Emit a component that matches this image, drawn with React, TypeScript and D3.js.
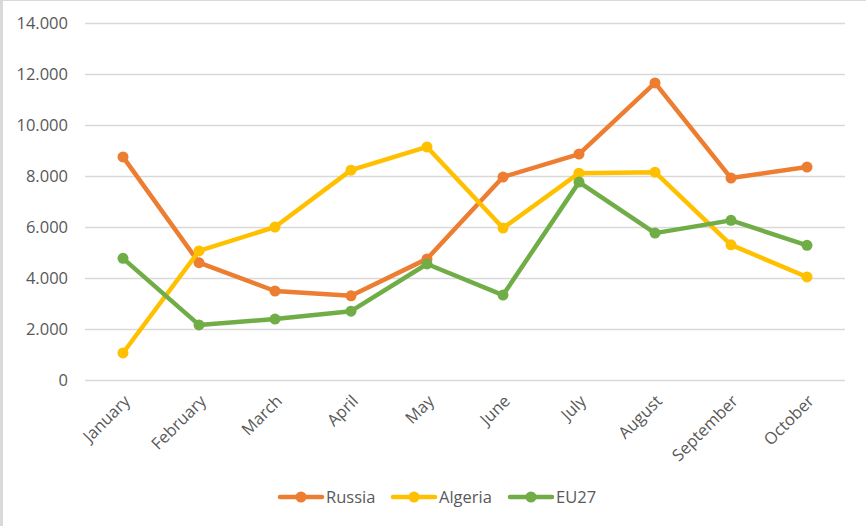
import React, { useEffect, useRef } from "react";
import * as d3 from "d3";

const months = ["January", "February", "March", "April", "May", "June", "July", "August", "September", "October"];
const russia = [8750, 4600, 3490, 3300, 4750, 7960, 8860, 11650, 7920, 8350];
const algeria = [1060, 5060, 6000, 8230, 9140, 5960, 8110, 8150, 5300, 4040];
const eu27 = [4770, 2160, 2390, 2700, 4550, 3330, 7760, 5760, 6260, 5280];
const yTicks = [0, 2000, 4000, 6000, 8000, 10000, 12000, 14000];

const series = [
  { name: "Russia", values: russia, color: "#ED7D31" },
  { name: "Algeria", values: algeria, color: "#FFC000" },
  { name: "EU27", values: eu27, color: "#70AD47" },
];

const W = 866;
const H = 526;
const font = "'Open Sans', 'Liberation Sans', sans-serif";
const fs = 16.5;

const App = () => {
  const svgRef = useRef<SVGSVGElement>(null);

  useEffect(() => {
    const svg = d3.select(svgRef.current);
    svg.selectAll("*").remove();

    svg.append("rect").attr("width", W).attr("height", H).attr("fill", "#fff");
    // frame (left and top edge only, like the crop)
    svg.append("rect").attr("x", 0).attr("y", 0).attr("width", 3).attr("height", H).attr("fill", "#d9d9d9");
    svg.append("rect").attr("x", 0).attr("y", 0).attr("width", W).attr("height", 1).attr("fill", "#d9d9d9");

    const x = d3.scaleBand().domain(months).range([85, 845]);
    const y = d3.scaleLinear().domain([0, 14000]).range([380, 23]);

    // gridlines
    svg.append("g")
      .selectAll("line")
      .data(yTicks)
      .enter()
      .append("line")
      .attr("x1", 85)
      .attr("x2", 845)
      .attr("y1", d => Math.round(y(d)) + 0.5)
      .attr("y2", d => Math.round(y(d)) + 0.5)
      .attr("stroke", "#d9d9d9")
      .attr("stroke-width", 1.5);

    // y labels
    svg.append("g")
      .selectAll("text")
      .data(yTicks)
      .enter()
      .append("text")
      .attr("x", 68)
      .attr("y", d => y(d))
      .attr("dy", "0.35em")
      .attr("text-anchor", "end")
      .attr("font-family", font)
      .attr("font-size", fs)
      .attr("fill", "#595959")
      .text(d => d3.format(",")(d).replace(/,/g, "."));

    // x labels
    svg.append("g")
      .selectAll("text")
      .data(months)
      .enter()
      .append("text")
      .attr("transform", d => `translate(${x(d)! + x.bandwidth() / 2 + 4},${398}) rotate(-45)`)
      .attr("text-anchor", "end")
      .attr("dy", "0.35em")
      .attr("font-family", font)
      .attr("font-size", fs)
      .attr("fill", "#595959")
      .text(d => d);

    const cx = (i: number) => x(months[i])! + x.bandwidth() / 2;
    const line = d3.line<number>().x((_, i) => cx(i)).y(d => y(d));

    series.forEach(s => {
      const g = svg.append("g");
      g.append("path")
        .attr("d", line(s.values))
        .attr("fill", "none")
        .attr("stroke", s.color)
        .attr("stroke-width", 4.5)
        .attr("stroke-linejoin", "round")
        .attr("stroke-linecap", "round");
      g.selectAll("circle")
        .data(s.values)
        .enter()
        .append("circle")
        .attr("cx", (_, i) => cx(i))
        .attr("cy", d => y(d))
        .attr("r", 5.5)
        .attr("fill", s.color);
    });

    // legend
    const legendX = [280, 393, 510];
    const legend = svg.append("g");
    series.forEach((s, i) => {
      const lx = legendX[i];
      legend.append("line")
        .attr("x1", lx)
        .attr("x2", lx + 42)
        .attr("y1", 497)
        .attr("y2", 497)
        .attr("stroke", s.color)
        .attr("stroke-width", 4.5)
        .attr("stroke-linecap", "round");
      legend.append("circle").attr("cx", lx + 21).attr("cy", 497).attr("r", 5.5).attr("fill", s.color);
      legend.append("text")
        .attr("x", lx + 46)
        .attr("y", 497)
        .attr("dy", "0.35em")
        .attr("font-family", font)
        .attr("font-size", fs)
        .attr("fill", "#595959")
        .text(s.name);
    });
  }, []);

  return (
    <div style={{ position: "absolute", left: 0, top: 0 }}>
      <svg ref={svgRef} width={W} height={H} style={{ display: "block" }}></svg>
    </div>
  );
};

export default App;
